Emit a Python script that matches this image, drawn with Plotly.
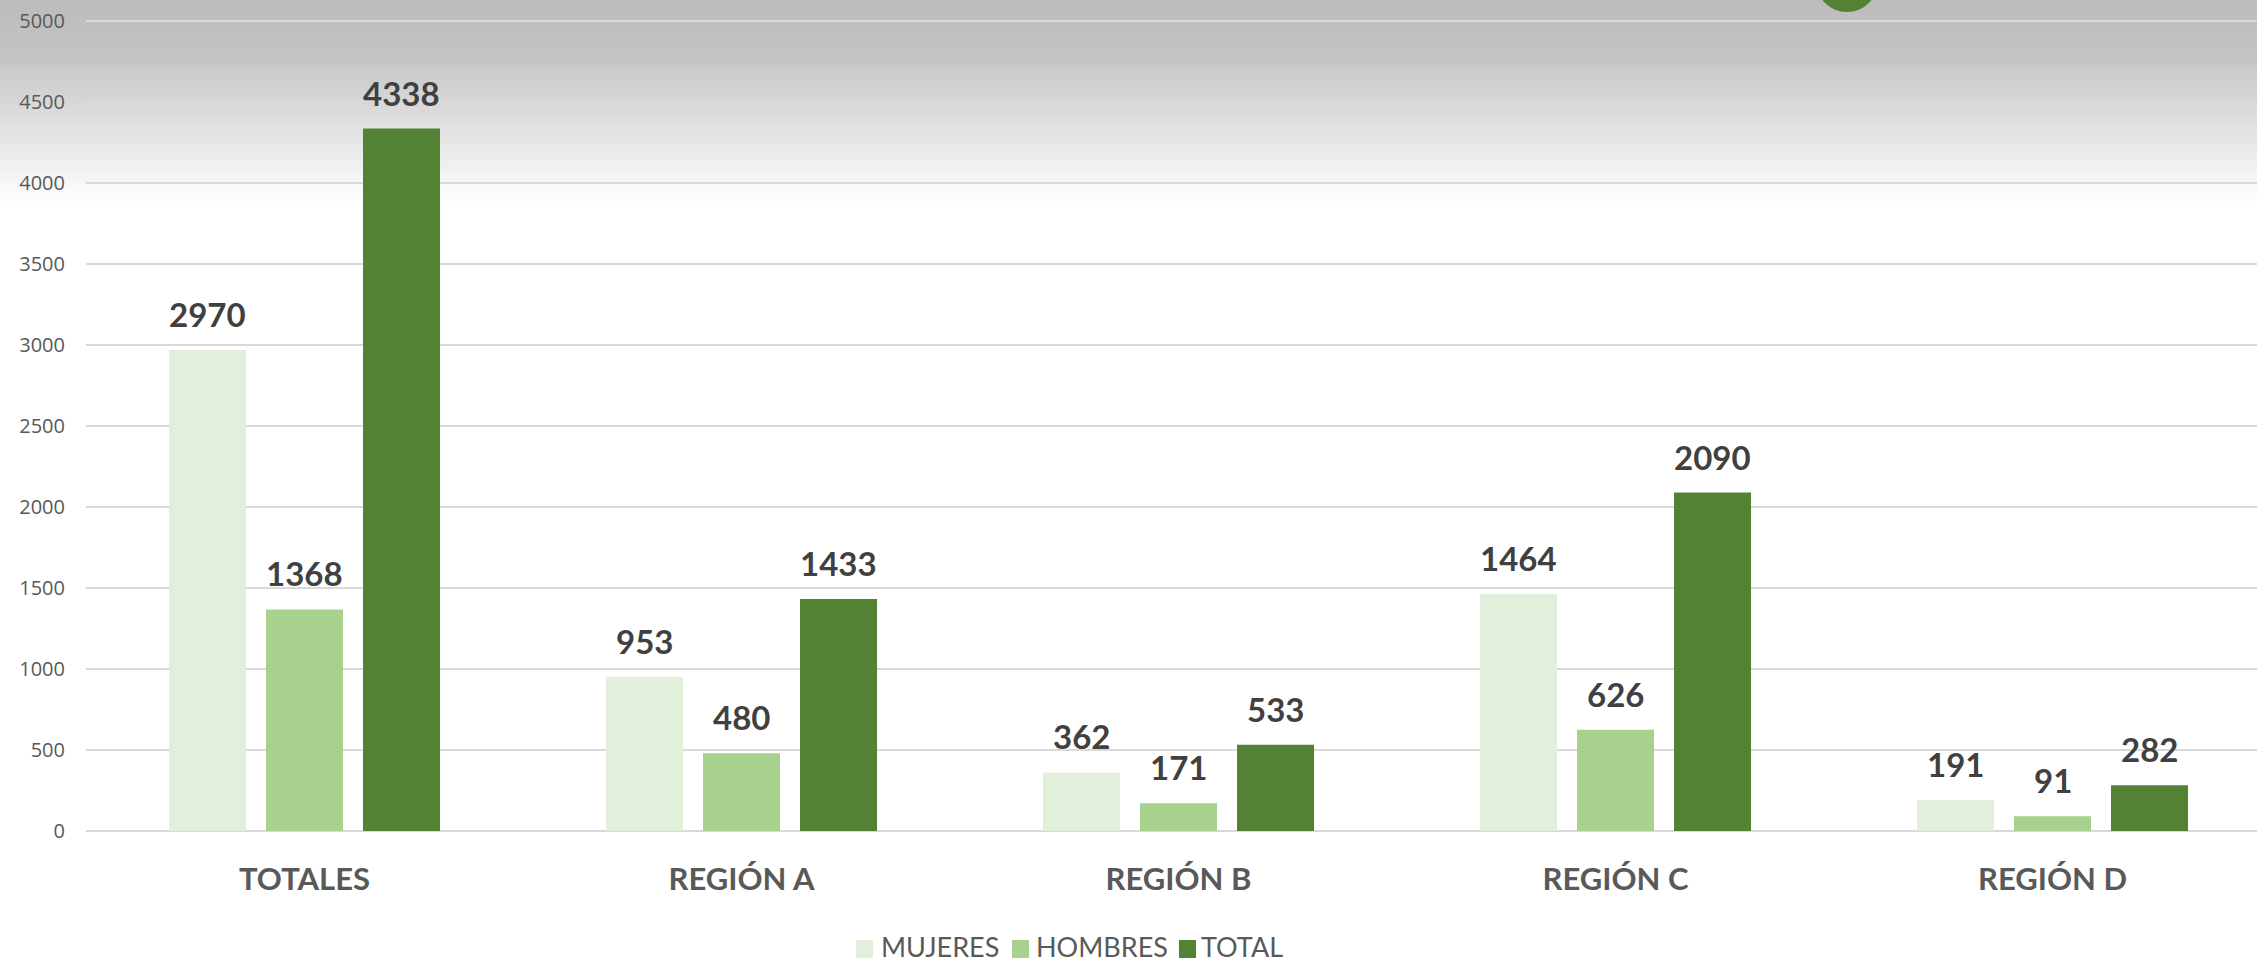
import plotly.graph_objects as go

# Datos
categorias = ["TOTALES", "REGIÓN A", "REGIÓN B", "REGIÓN C", "REGIÓN D"]
mujeres = [2970, 953, 362, 1464, 191]
hombres = [1368, 480, 171, 626, 91]
total = [4338, 1433, 533, 2090, 282]

series = ["MUJERES", "HOMBRES", "TOTAL"]
colores = ["#E2EFDA", "#A9D18E", "#548235"]

W, H = 2257, 963
ML, MB, MT = 86, 132, 0
PW = W - ML
PH = H - MB - MT
CAT_PX = 437            # ancho de cada grupo en px
SLOT_PX = 97            # ancho de cada barra + hueco


def px2x(px):
    return (px - ML) / PW


def py2y(py):
    return 1 - (py - MT) / PH


fig = go.Figure()
for nombre, valores, color in zip(series, [mujeres, hombres, total], colores):
    fig.add_trace(go.Bar(
        name=nombre,
        x=categorias,
        y=valores,
        marker=dict(color=color, line=dict(width=0)),
        showlegend=False,
        hoverinfo="x+y+name",
    ))

# Etiquetas de datos
for i, valores in enumerate([mujeres, hombres, total]):
    for cat, v in zip(categorias, valores):
        fig.add_annotation(
            x=cat, y=v, xref="x", yref="y",
            text=str(v), showarrow=False,
            xshift=(i - 1) * SLOT_PX, yshift=14,
            yanchor="bottom",
            font=dict(family="Lato", size=33, color="#404040", weight="bold"),
        )

# Fondo degradado en la parte superior
shapes = []
step = 2
for py in range(0, 210, step):
    if py < 63:
        c = 0xBC + (0xC4 - 0xBC) * py / 63
    else:
        c = 0xC8 + (0xFF - 0xC8) * min(1, (py - 63) / 140)
    c = int(round(c))
    col = "#%02x%02x%02x" % (c, c, c)
    shapes.append(dict(
        type="rect", xref="paper", yref="paper",
        x0=px2x(0), x1=px2x(W), y0=py2y(py + step + 0.5), y1=py2y(py),
        fillcolor=col, line=dict(width=0), layer="below",
    ))

# Forma verde (logo recortado)
shapes.append(dict(
    type="circle", xref="paper", yref="paper",
    x0=px2x(1816), x1=px2x(1878), y0=py2y(12), y1=py2y(-50),
    fillcolor="#548235", line=dict(width=0), layer="above",
))

# Leyenda manual
leg_sw = [856, 1012, 1179]
leg_tx = [879, 1034, 1199]
for nombre, color, sx, tx in zip(series, colores, leg_sw, leg_tx):
    shapes.append(dict(
        type="rect", xref="paper", yref="paper",
        x0=px2x(sx), x1=px2x(sx + 17), y0=py2y(958), y1=py2y(940),
        fillcolor=color, line=dict(width=0),
    ))
    fig.add_annotation(
        x=px2x(tx), y=py2y(947), xref="paper", yref="paper",
        text=nombre, showarrow=False, xanchor="left", yanchor="middle",
        font=dict(family="Lato", size=27, color="#595959"),
    )

fig.update_layout(
    width=W, height=H,
    margin=dict(l=ML, r=0, t=MT, b=MB),
    paper_bgcolor="white",
    plot_bgcolor="rgba(0,0,0,0)",
    barmode="group",
    bargap=0.334,
    bargroupgap=0.206,
    shapes=shapes,
    showlegend=False,
)
fig.update_xaxes(
    range=[-0.5, -0.5 + PW / CAT_PX],
    showgrid=False, showline=False, ticks="",
    tickfont=dict(family="Lato", size=31, color="#595959", weight="bold"),
    ticklabelstandoff=27,
)
fig.update_yaxes(
    range=[0, PH / (809.7 / 5000)],
    tick0=0, dtick=500,
    showgrid=True, gridcolor="#d9d9d9", gridwidth=2,
    zeroline=True, zerolinecolor="#d9d9d9", zerolinewidth=2,
    showline=False, ticks="",
    tickfont=dict(family="Open Sans", size=20, color="#595959"),
    ticklabelstandoff=20,
)

fig.write_html("out.html", config={"displayModeBar": False},
               post_script="document.body.style.margin='0';")
